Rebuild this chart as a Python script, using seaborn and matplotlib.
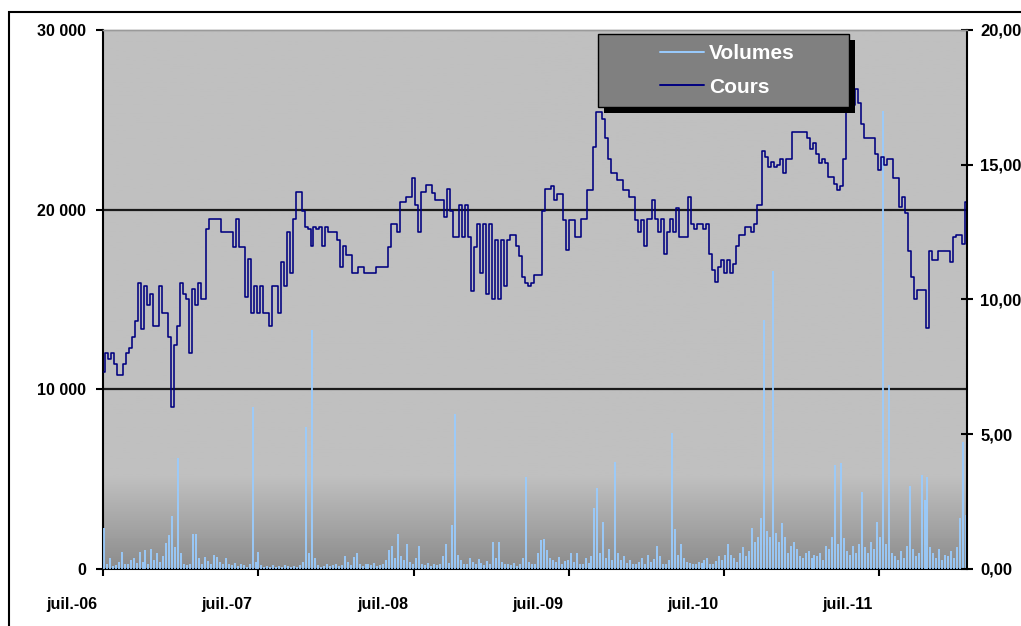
import pandas as pd
import numpy as np
import matplotlib
matplotlib.use('Agg')
import matplotlib.pyplot as plt
import matplotlib.transforms as mtransforms
from matplotlib.patches import Rectangle
from matplotlib.lines import Line2D
import seaborn as sns

# Weekly readings, July 2006 -> January 2012
weeks = pd.date_range('2006-07-03', periods=291, freq='7D')

cours = [
    7.3, 8.0, 7.8, 8.0, 7.6, 7.2, 7.2, 7.6, 8.0, 8.2,
    8.6, 9.2, 10.6, 8.9, 10.5, 9.8, 10.2, 9.0, 9.0, 10.5,
    9.5, 9.5, 8.6, 6.0, 8.3, 9.0, 10.6, 10.2, 10.0, 8.0,
    10.4, 9.8, 10.6, 10.0, 10.0, 12.6, 13.0, 13.0, 13.0, 13.0,
    12.5, 12.5, 12.5, 12.5, 11.95, 13.0, 11.95, 11.95, 10.1, 11.5,
    9.5, 10.5, 9.5, 10.5, 9.5, 9.5, 9.0, 10.5, 10.5, 9.5,
    11.4, 10.5, 12.5, 11.0, 13.0, 14.0, 14.0, 13.3, 12.7, 12.6,
    12.0, 12.7, 12.6, 12.7, 12.0, 12.7, 12.5, 12.5, 12.5, 12.2,
    11.2, 12.0, 11.65, 11.65, 11.0, 11.0, 11.2, 11.2, 11.0, 11.0,
    11.0, 11.0, 11.2, 11.2, 11.2, 11.2, 11.95, 12.8, 12.8, 12.5,
    13.6, 13.6, 13.8, 13.8, 14.5, 13.5, 12.5, 14.0, 14.0, 14.25,
    14.25, 13.95, 13.7, 13.7, 13.7, 13.06, 14.1, 13.3, 12.3, 12.3,
    13.5, 12.3, 13.5, 12.3, 10.3, 11.95, 12.8, 11.0, 12.8, 10.2,
    12.8, 10.0, 12.2, 10.0, 12.2, 10.5, 12.2, 12.4, 12.4, 12.0,
    11.6, 10.85, 10.6, 10.5, 10.6, 10.9, 10.9, 10.9, 13.3, 14.1,
    14.1, 14.2, 13.7, 13.9, 13.9, 12.95, 11.84, 12.95, 12.95, 12.3,
    12.3, 13.0, 13.0, 14.05, 14.05, 15.65, 16.95, 16.95, 16.7, 16.0,
    15.2, 14.7, 14.7, 14.45, 14.45, 14.05, 14.05, 13.8, 13.8, 12.95,
    12.5, 12.95, 12.0, 13.0, 13.0, 13.7, 13.0, 12.5, 13.0, 11.7,
    12.5, 13.0, 12.5, 13.4, 12.3, 12.3, 12.3, 13.8, 12.8, 12.6,
    12.8, 12.8, 12.6, 12.8, 11.7, 11.1, 10.65, 11.2, 11.45, 11.0,
    11.45, 11.0, 11.3, 12.0, 12.4, 12.4, 12.7, 12.7, 12.5, 12.8,
    13.5, 13.5, 15.5, 15.3, 14.9, 15.1, 14.9, 15.0, 15.2, 14.7,
    15.2, 15.2, 16.2, 16.2, 16.2, 16.2, 16.2, 16.0, 15.6, 15.8,
    15.4, 15.05, 15.2, 15.05, 14.55, 14.55, 14.3, 14.05, 14.2, 15.2,
    17.5, 18.0, 17.2, 17.8, 17.3, 16.5, 16.0, 16.0, 16.0, 16.0,
    15.4, 14.8, 15.3, 15.0, 15.2, 15.2, 14.5, 14.5, 13.45, 13.8,
    13.2, 11.8, 10.85, 10.0, 10.35, 10.35, 10.35, 8.95, 11.8, 11.45,
    11.45, 11.8, 11.8, 11.8, 11.8, 11.4, 12.3, 12.4, 12.4, 12.05,
    13.6,
]

volumes = [
    2300, 300, 600, 150, 200, 400, 950, 250, 300, 500,
    600, 350, 950, 400, 1050, 300, 1100, 500, 900, 400,
    700, 1450, 1900, 2950, 1200, 6200, 900, 300, 200, 250,
    1950, 1950, 600, 300, 650, 450, 300, 800, 650, 400,
    250, 600, 300, 200, 350, 150, 250, 200, 100, 300,
    9000, 400, 950, 200, 100, 150, 100, 200, 100, 150,
    100, 200, 150, 100, 150, 100, 200, 400, 7900, 900,
    13300, 600, 200, 100, 150, 300, 150, 200, 250, 150,
    200, 700, 400, 200, 650, 900, 300, 150, 250, 300,
    200, 350, 150, 200, 250, 500, 1050, 1300, 600, 1950,
    700, 500, 1400, 400, 250, 600, 1300, 300, 200, 350,
    150, 250, 200, 300, 700, 1400, 350, 2450, 8600, 800,
    500, 300, 250, 600, 400, 300, 550, 350, 200, 450,
    300, 1500, 600, 1500, 400, 300, 250, 200, 350, 150,
    250, 600, 5100, 400, 300, 250, 900, 1600, 1650, 1050,
    600, 500, 400, 650, 300, 450, 500, 900, 400, 900,
    300, 250, 600, 350, 700, 3400, 4500, 900, 2600, 600,
    1100, 500, 5950, 900, 500, 700, 350, 500, 300, 250,
    400, 600, 300, 750, 400, 550, 1300, 700, 300, 250,
    500, 7550, 2200, 800, 1400, 600, 400, 350, 300, 250,
    400, 350, 500, 600, 300, 250, 450, 700, 500, 800,
    1400, 800, 600, 400, 900, 1200, 700, 1000, 2280, 1500,
    1800, 2850, 13850, 2100, 1800, 16600, 2000, 1500, 2550, 1770,
    900, 1300, 1500, 1100, 700, 600, 900, 1000, 600, 800,
    700, 900, 500, 1300, 1100, 1800, 5800, 1400, 5900, 1750,
    1000, 800, 1300, 900, 1400, 4300, 1200, 900, 1500, 1100,
    2600, 1800, 25500, 1400, 10250, 900, 700, 500, 1000, 600,
    1300, 4600, 1100, 700, 900, 5230, 3850, 5100, 1200, 900,
    600, 1100, 500, 800, 700, 1000, 600, 1200, 2850, 7050,
    3000,
]

tick_dates = pd.to_datetime(['2006-07-01', '2007-07-01', '2008-07-01',
                             '2009-07-01', '2010-07-01', '2011-07-01'])
tick_labels = ['juil.-06', 'juil.-07', 'juil.-08', 'juil.-09', 'juil.-10', 'juil.-11']
vol_ticks = [0, 10000, 20000, 30000]
vol_labels = ['0', '10 000', '20 000', '30 000']
cours_ticks = [0, 5, 10, 15, 20]
cours_labels = ['0,00', '5,00', '10,00', '15,00', '20,00']

df = pd.DataFrame({'Date': weeks, 'Cours': cours, 'Volumes': volumes})

sns.set_theme(style='white')
plt.rcParams['font.family'] = ['Liberation Sans', 'DejaVu Sans']
plt.rcParams['font.weight'] = 'bold'

fig = plt.figure(figsize=(10.21, 6.26), dpi=100)
ax = fig.add_axes([0.1009, 0.0911, 0.8462, 0.8610])

# gray plot area, darker towards the bottom
frac = np.linspace(0, 1, 300)
shade = np.where(frac > 0.17, 0xC0, 0x8C + (0xC0 - 0x8C) * frac / 0.17) / 255
ax.imshow(shade.reshape(-1, 1), cmap='gray', vmin=0, vmax=1, origin='lower',
          extent=(0, 1, 0, 1), transform=ax.transAxes, aspect='auto', zorder=0)

ax.axhline(10000, color='#1a1a1a', lw=1.6, zorder=2)
ax.axhline(20000, color='#1a1a1a', lw=1.6, zorder=2)

ax.vlines(df['Date'], 0, df['Volumes'], color='#99CCFF', lw=1.3, zorder=3)

ax2 = ax.twinx()
sns.lineplot(data=df, x='Date', y='Cours', ax=ax2, color='#000080', lw=1.15,
             drawstyle='steps-mid')

ax.set_xlim(pd.Timestamp('2006-07-01'), pd.Timestamp('2012-01-25'))
ax.set_ylim(0, 30000)
ax2.set_ylim(0, 20)

ax.set_yticks(vol_ticks, vol_labels)
ax.set_xticks(tick_dates, tick_labels)
ax2.set_yticks(cours_ticks, cours_labels)
ax.set_xlabel('')
ax.set_ylabel('')
ax2.set_xlabel('')
ax2.set_ylabel('')

ax.tick_params(axis='y', left=True, direction='out', length=5, width=1.5,
               pad=7, labelsize=11.5, colors='black')
ax.tick_params(axis='x', bottom=True, direction='out', length=5, width=1.5,
               pad=15, labelsize=11.5, colors='black')
ax2.tick_params(axis='y', right=True, direction='inout', length=9, width=1.5,
                pad=5, labelsize=12, colors='black')

offset = mtransforms.ScaledTranslation(-4 / 72, 0, fig.dpi_scale_trans)
for lbl in ax.get_xticklabels():
    lbl.set_ha('right')
    lbl.set_transform(lbl.get_transform() + offset)

for a in (ax, ax2):
    for s in a.spines.values():
        s.set_color('black')
        s.set_linewidth(1.5)
    a.spines['top'].set_color('#9a9a9a')
    a.spines['top'].set_linewidth(1.0)
ax2.spines['left'].set_visible(False)
ax2.spines['bottom'].set_visible(False)
ax.spines['right'].set_visible(False)

# legend box with hard black shadow
x0, x1 = 0.5729, 0.8634
y0, y1 = 0.8571, 0.9926
ax2.add_patch(Rectangle((x0 + 0.0069, y0 - 0.0111), x1 - x0, y1 - y0,
                        transform=ax2.transAxes, fc='black', ec='none', zorder=5))
ax2.add_patch(Rectangle((x0, y0), x1 - x0, y1 - y0, transform=ax2.transAxes,
                        fc='#808080', ec='black', lw=1.0, zorder=6))
handles = [Line2D([], [], color='#99CCFF', lw=1.4), Line2D([], [], color='#000080', lw=1.4)]
leg = ax2.legend(handles, ['Volumes', 'Cours'], loc='center',
                 bbox_to_anchor=(0.7228, 0.9249), bbox_transform=ax2.transAxes,
                 frameon=False, handlelength=2.1, handletextpad=0.25,
                 labelspacing=0.7, labelcolor='white',
                 prop={'weight': 'bold', 'size': 15})
leg.set_zorder(7)

# chart border (runs off the right and bottom of the picture)
fig.patches.append(Rectangle((9 / 1021, -0.05), 1.0, 1 - 12 / 626 + 0.05,
                             transform=fig.transFigure, fill=False,
                             ec='black', lw=1.5))

plt.savefig('out.png', dpi=100)
plt.close()
